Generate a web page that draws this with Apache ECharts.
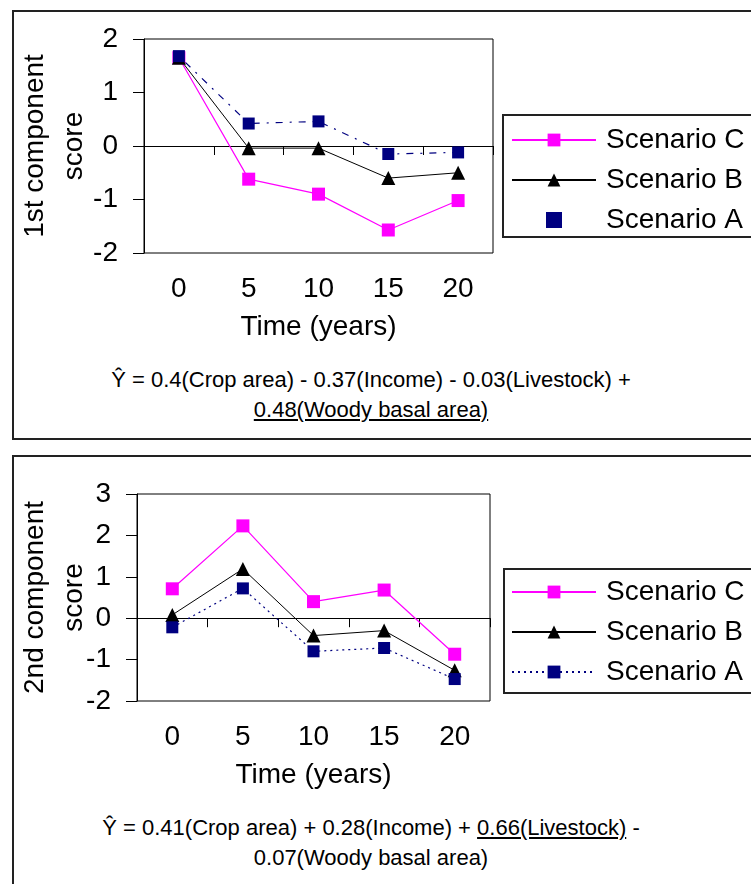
<!DOCTYPE html>
<html>
<head>
<meta charset="utf-8">
<script src="https://cdn.jsdelivr.net/npm/echarts@6/dist/echarts.min.js"></script>
<style>
  html, body { margin:0; padding:0; background:#fff; }
  #wrap { position:relative; width:751px; height:884px; overflow:hidden; }
  .frame { position:absolute; border:2px solid #222; box-sizing:border-box; }
  .eq { position:absolute; left:0; width:742px; text-align:center; font-family:"Liberation Sans", Arial, sans-serif; font-size:22px; line-height:30px; color:#000; }
  #chart { position:absolute; left:0; top:0; width:751px; height:884px; }
</style>
</head>
<body>
<div id="wrap">
  <div class="frame" style="left:12px;top:10px;width:780px;height:430px;"></div>
  <div class="frame" style="left:12px;top:455px;width:780px;height:520px;"></div>
  <div class="frame" style="left:502px;top:114px;width:300px;height:124px;"></div>
  <div class="frame" style="left:503px;top:568px;width:300px;height:126px;"></div>
  <div class="eq" style="top:365px;">Ŷ = 0.4(Crop area) - 0.37(Income) - 0.03(Livestock) +<br><u>0.48(Woody basal area)</u></div>
  <div class="eq" style="top:813px;">Ŷ = 0.41(Crop area) + 0.28(Income) + <u>0.66(Livestock)</u> -<br>0.07(Woody basal area)</div>
  <div id="chart"></div>
</div>
<script>
const categories = ['0', '5', '10', '15', '20'];
const seriesNames = ['Scenario C', 'Scenario B', 'Scenario A'];
const top_C = [1.65, -0.62, -0.9, -1.57, -1.02];
const top_B = [1.65, -0.04, -0.04, -0.6, -0.5];
const top_A = [1.68, 0.42, 0.46, -0.15, -0.12];
const bot_C = [0.71, 2.23, 0.40, 0.68, -0.87];
const bot_B = [0.08, 1.19, -0.42, -0.3, -1.26];
const bot_A = [-0.22, 0.72, -0.8, -0.72, -1.47];
const yTitles = ['1st component\nscore', '2nd component\nscore'];
const xTitle = 'Time (years)';

const FONT = '"Liberation Sans", Arial, sans-serif';
const txt = { fontFamily: FONT, fontSize: 28, color: '#000' };

const grids = [
  { left: 144, top: 39, width: 349, height: 214 },
  { left: 137, top: 494, width: 353, height: 207 }
];
const yRanges = [[-2, 2], [-2, 3]];
const nameGaps = [50, 43];

const xAxes = [], yAxes = [];
grids.forEach((g, i) => {
  xAxes.push({
    gridIndex: i, type: 'category', data: categories, position: 'top', boundaryGap: true,
    axisLine: { onZero: true, lineStyle: { color: '#000', width: 1 } },
    axisTick: { show: true, inside: true, length: 9, lineStyle: { color: '#000' } },
    axisLabel: { show: false }, splitLine: { show: false }
  });
  xAxes.push({
    gridIndex: i, type: 'category', data: categories, position: 'bottom', boundaryGap: true,
    axisLine: { show: false, onZero: false }, axisTick: { show: false },
    axisLabel: Object.assign({ margin: 22 }, txt), splitLine: { show: false },
    name: xTitle, nameLocation: 'middle', nameGap: 60, nameMoveOverlap: false,
    nameTextStyle: Object.assign({}, txt)
  });
  yAxes.push({
    gridIndex: i, type: 'value', min: yRanges[i][0], max: yRanges[i][1], interval: 1,
    axisLine: { show: true, onZero: false, lineStyle: { color: '#000' } },
    axisTick: { show: true, length: 11, lineStyle: { color: '#000' } },
    axisLabel: Object.assign({ margin: 26 }, txt), splitLine: { show: false },
    name: yTitles[i], nameLocation: 'middle', nameRotate: 90, nameGap: nameGaps[i],
    nameMoveOverlap: false,
    nameTextStyle: Object.assign({ lineHeight: 39 }, txt)
  });
});

function mk(name, data, gi, style) {
  return Object.assign({
    name: name, type: 'line', data: data, xAxisIndex: gi * 2, yAxisIndex: gi,
    animation: false
  }, style);
}
const styleC = { symbol: 'rect', symbolSize: 13, itemStyle: { color: '#ff00ff' }, lineStyle: { color: '#ff00ff', width: 1.2 } };
const styleB = { symbol: 'triangle', symbolSize: 14, itemStyle: { color: '#000' }, lineStyle: { color: '#000', width: 1 } };
const styleA1 = { symbol: 'rect', symbolSize: 12, itemStyle: { color: '#000080' }, lineStyle: { color: '#000080', width: 1.2, type: [2, 7, 7, 7] } };
const styleA2 = { symbol: 'rect', symbolSize: 12, itemStyle: { color: '#000080' }, lineStyle: { color: '#000080', width: 1.2, type: [2, 4] } };

const series = [
  mk('Scenario C|1', top_C, 0, styleC),
  mk('Scenario B|1', top_B, 0, styleB),
  mk('Scenario A|1', top_A, 0, styleA1),
  mk('Scenario C|2', bot_C, 1, styleC),
  mk('Scenario B|2', bot_B, 1, styleB),
  mk('Scenario A|2', bot_A, 1, styleA2)
];

function legend(idx, top, aIcon) {
  return {
    orient: 'vertical', left: 511, top: top, padding: 0,
    itemWidth: 84, itemHeight: 16, itemGap: 12,
    selectedMode: false,
    data: seriesNames.map(n => {
      const d = { name: n + '|' + idx };
      if (n === 'Scenario A' && aIcon) d.icon = aIcon;
      return d;
    }),
    formatter: nm => nm.split('|')[0],
    textStyle: Object.assign({ padding: [0, 0, 0, 5] }, txt)
  };
}

const chart = echarts.init(document.getElementById('chart'), null, { renderer: 'canvas' });
chart.setOption({
  backgroundColor: 'transparent',
  animation: false,
  grid: grids.map(g => Object.assign({ show: true, borderColor: '#000', borderWidth: 1, backgroundColor: 'transparent' }, g)),
  xAxis: xAxes,
  yAxis: yAxes,
  legend: [legend(1, 126, 'path://M0,0H10V10H0Z'), legend(2, 578, null)],
  series: series
});
</script>
</body>
</html>
